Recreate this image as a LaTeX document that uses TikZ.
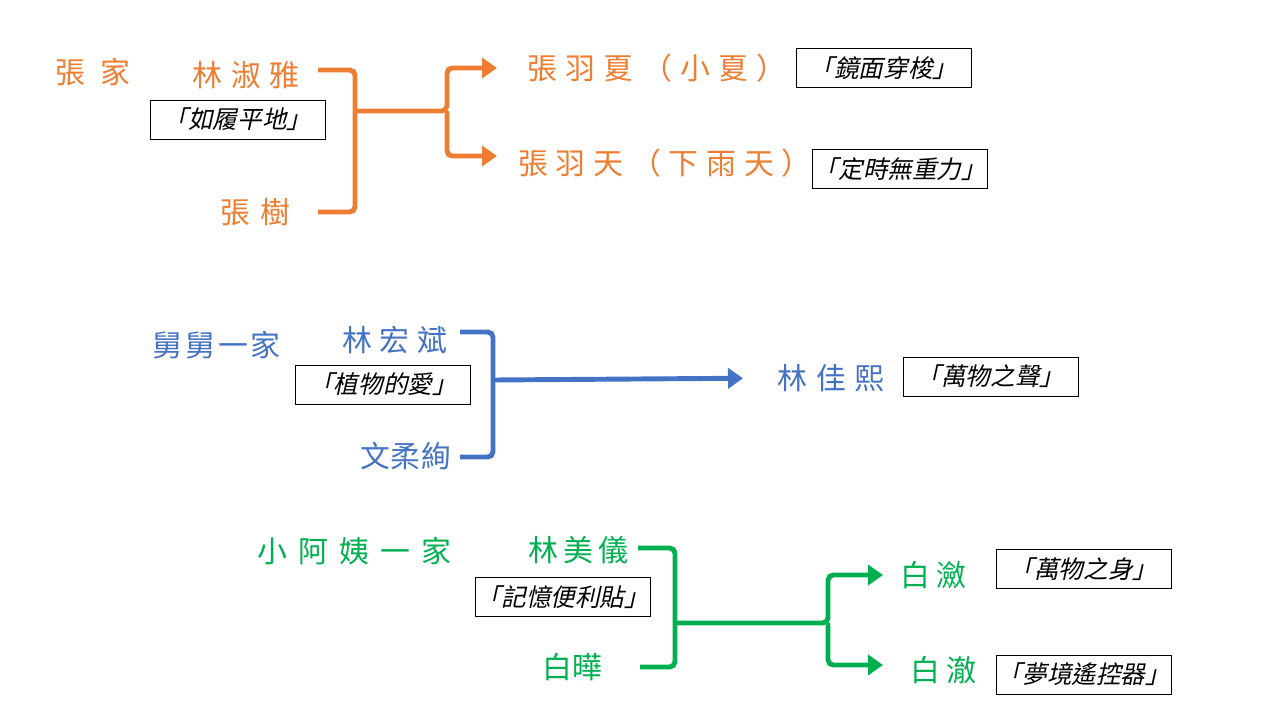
\documentclass[tikz,border=0pt]{standalone}
\usepackage{fontspec}
\setmainfont{Noto Sans CJK TC}
\newfontfamily\namefont{Noto Sans CJK TC}
\newfontfamily\tagfont[FakeSlant=0.22]{Noto Sans CJK TC}
\usepackage{tikz}
\usetikzlibrary{arrows.meta,positioning}
\definecolor{zhangorange}{HTML}{ED7D31}
\definecolor{uncleblue}{HTML}{4472C4}
\definecolor{auntgreen}{HTML}{00B050}
\tikzset{
  membername/.style={anchor=west, inner sep=0pt,
    font=\namefont\fontsize{17}{17}\selectfont\addfontfeature{LetterSpace=#1}},
  membername/.default=30,
  powerbox/.style={rectangle, draw=black, thin, fill=white, minimum width=3.5cm,
    minimum height=0.78cm, align=center, inner xsep=0pt, inner ysep=1pt,
    font=\tagfont\fontsize{14}{14}\selectfont},
  bracketline/.style={line width=2.8pt, rounded corners=3pt},
  childarrow/.style={bracketline, -{Triangle[length=0.3cm, width=0.4cm]}},
}

\begin{document}
\begin{tikzpicture}[x=0.02cm, y=-0.02cm]
  \useasboundingbox (0,0) rectangle (1280,720);

  % Zhang family (top)
  \begin{scope}[text=zhangorange]
    \node[membername=50] (zhang) at (55,72) {張家};
    \node[membername=30] (shuya) at (192,75) {林淑雅};
    \node[membername=33] (shu) at (220,212) {張樹};
    \node[membername=28] (yuxia) at (527,68) {張羽夏（小夏）};
    \node[membername=26] (yutian) at (518,163) {張羽天（下雨天）};
  \end{scope}
  \node[powerbox] (shuyapow) at (237.5,119.5) {「如履平地」};
  \node[powerbox] (yuxiapow) at (883.5,68) {「鏡面穿梭」};
  \node[powerbox] (yutianpow) at (900,169) {「定時無重力」};

  \coordinate (zhangtop) at (318,70);
  \coordinate (zhangbot) at (318,212);
  \coordinate (zhangjoin) at (355,111);
  \coordinate (zhangfork) at (447,111);
  \draw[bracketline, zhangorange] (zhangtop) -| (zhangjoin) |- (zhangbot);
  \draw[childarrow, zhangorange, shorten >=0.6cm] (zhangjoin) -- (zhangfork) |- (yuxia.west);
  \draw[childarrow, zhangorange, shorten >=0.42cm] (zhangfork) |- ([yshift=0.14cm]yutian.west);

  % Uncle's family (middle)
  \begin{scope}[text=uncleblue]
    \node[membername=10] (uncle) at (152,345) {舅舅一家};
    \node[membername=26] (hongbin) at (342,340) {林宏斌};
    \node[membername=2] (rouxuan) at (360,456) {文柔絢};
    \node[membername=30] (jiaxi) at (777,378) {林佳熙};
  \end{scope}
  \node[powerbox] (hongbinpow) at (383,384.5) {「植物的愛」};
  \node[powerbox] (jiaxipow) at (990.5,376.5) {「萬物之聲」};

  \coordinate (uncletop) at (460,332);
  \coordinate (unclebot) at (460,457);
  \coordinate (unclejoin) at (493,380);
  \draw[bracketline, uncleblue] (uncletop) -| (unclejoin) |- (unclebot);
  \draw[childarrow, uncleblue, shorten >=0.68cm] (unclejoin) -- (jiaxi.west);

  % Aunt's family (bottom)
  \begin{scope}[text=auntgreen]
    \node[membername=37] (aunt) at (257,551) {小阿姨一家};
    \node[membername=18] (meiyi) at (528,550) {林美儀};
    \node[membername=0] (baiye) at (542,667) {白曄};
    \node[membername=20] (bailian) at (900,575) {白瀲};
    \node[membername=20] (baiche) at (910,670) {白澈};
  \end{scope}
  \node[powerbox] (meiyipow) at (563,597) {「記憶便利貼」};
  \node[powerbox] (bailianpow) at (1083.5,569) {「萬物之身」};
  \node[powerbox] (baichepow) at (1084,674.5) {「夢境遙控器」};

  \coordinate (aunttop) at (638,548);
  \coordinate (auntbot) at (640,667);
  \coordinate (auntjoin) at (675,623);
  \coordinate (auntfork) at (828,623);
  \draw[bracketline, auntgreen] (aunttop) -| (auntjoin) |- (auntbot);
  \draw[childarrow, auntgreen, shorten >=0.34cm] (auntjoin) -- (auntfork) |- (bailian.west);
  \draw[childarrow, auntgreen, shorten >=0.54cm] (auntfork) |- ([yshift=0.1cm]baiche.west);
\end{tikzpicture}
\end{document}
